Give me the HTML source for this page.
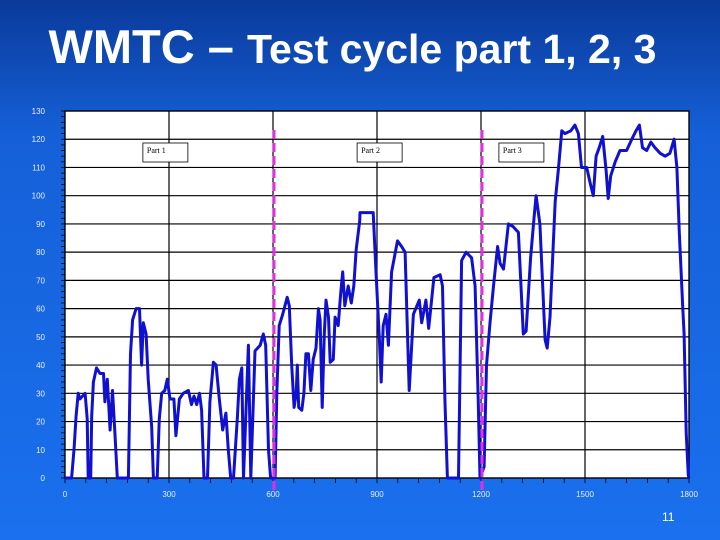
<!DOCTYPE html>
<html><head><meta charset="utf-8"><style>
html,body{margin:0;padding:0;width:720px;height:540px;overflow:hidden}
body{background:linear-gradient(180deg,#0a3a9a 0%,#1560d8 25%,#1a70ee 100%);font-family:"Liberation Sans",sans-serif}
#title{position:absolute;left:0;width:705px;top:20px;text-align:center;color:#fff;font-weight:bold;font-size:47px;line-height:54px;white-space:nowrap}
#title span{font-size:41px}
#pg{position:absolute;left:662px;top:510px;color:#fff;font-size:12px}
svg{position:absolute;left:0;top:0}
</style></head><body>
<div id="title">WMTC – <span>Test cycle part 1, 2, 3</span></div>
<div id="pg">11</div>
<svg id="chart" width="720" height="540"></svg>
<script>
const times=[0,19,26,32,38,43,58,64,67,74,77,82,91,101,111,115,122,130,137,144,151,183,189,195,205,215,221,226,234,240,250,255,266,272,279,288,295,303,314,320,330,341,356,365,372,380,388,394,401,411,418,428,436,445,455,464,471,478,486,497,503,510,515,529,536,548,563,572,579,587,593,606,611,618,628,641,647,654,661,667,670,674,683,689,695,702,709,716,724,731,736,742,748,753,760,765,774,779,788,795,801,807,817,826,833,840,850,
851,889,897,907,912,918,926,933,942,959,971,981,988,993,1005,1022,1029,1041,1049,1064,1082,1089,1096,1103,1135,1144,1157,1173,1183,1192,1197,1209,1216,1226,1236,1248,1255,1265,1279,1293,1308,1322,1330,1343,1353,1359,1370,1385,1391,1399,1414,1423,1433,1442,1459,1471,1481,1490,1505,1516,1524,1532,1541,1551,1561,1567,1574,1587,1601,1620,1635,1647,1657,1666,1678,1690,1702,1717,1731,1745,1757,1765,1772,1782,1786,1792,1798,1800];
const speeds=[0,0,10,22,30,28,30,21,0,0,22,34,39,37,37,27,35,17,31,16,0,0,44,56,60,60,40,55,51,35,18,0,0,21,30,31,35,28,28,15,28,30,31,26,29,26,30,24,0,0,27,41,40,28,17,23,10,0,0,21,35,39,0,47,0,45,47,51,47,10,0,0,30,54,58,64,61,40,25,30,40,25,24,30,44,44,31,42,46,60,56,25,51,63,57,41,42,57,54,65,73,61,68,62,68,81,91,
94,94,73,49,34,54,58,47,73,84,82,80,51,31,58,63,55,63,53,71,72,68,28,0,0,77,80,78,68,28,0,4,40,55,68,82,76,74,90,89,87,51,52,78,92,100,90,49,46,57,98,109,123,122,123,125,122,110,110,104,100,114,117,121,109,99,107,112,116,116,120,123,125,117,116,119,117,115,114,115,120,110,87,60,51,16,1,0];
const xTicks=[0,300,600,900,1200,1500,1800];
const yTicks=[0,10,20,30,40,50,60,70,80,90,100,110,120,130];
const partBoundaries=[600,1200];
const partLabels=[{t:"Part 1",x:291},{t:"Part 2",x:909},{t:"Part 3",x:1318}];
const L=65,R=689,T=111,B=478;
const X=t=>L+(t/1800)*(R-L), Y=v=>B-(v/130)*(B-T);
const svg=document.getElementById('chart');const NS='http://www.w3.org/2000/svg';
function mk(tag,attrs,parent){const e=document.createElementNS(NS,tag);for(const k in attrs)e.setAttribute(k,attrs[k]);(parent||svg).appendChild(e);return e;}
const bg=mk('rect',{x:L,y:T,width:R-L,height:B-T,fill:'#fff'});


yTicks.forEach(v=>{const l=mk('line',{x1:L,x2:R,y1:Y(v),y2:Y(v),stroke:'#000','stroke-width':1.2});


const t=mk('text',{x:45,y:Y(v)+3,'text-anchor':'end','font-size':8,fill:'#e8eeff','font-family':'Liberation Sans'});t.textContent=v;

});
for(let v=0;v<=130;v+=2){mk('line',{x1:L-4,x2:L,y1:Y(v),y2:Y(v),stroke:'#000','stroke-width':0.8});}
xTicks.forEach(v=>{const l=mk('line',{x1:X(v),x2:X(v),y1:T,y2:B,stroke:'#000','stroke-width':1.2});


const t=mk('text',{x:X(v),y:497,'text-anchor':'middle','font-size':8,fill:'#e8eeff','font-family':'Liberation Sans'});t.textContent=v;

});
for(let v=0;v<=1800;v+=60){mk('line',{x1:X(v),x2:X(v),y1:B,y2:B+5,stroke:'#000','stroke-width':0.8});}
mk('rect',{x:L,y:T,width:R-L,height:B-T,fill:'none',stroke:'#000','stroke-width':1.2});
partLabels.forEach(p=>{const g=mk('g',{});


mk('rect',{x:X(p.x)-23,y:143,width:45,height:19,fill:'#fff',stroke:'#000','stroke-width':0.8},g);
const t=mk('text',{x:X(p.x)-19,y:153,'font-size':8,'font-family':'Liberation Serif',fill:'#000'},g);t.textContent=p.t;});
const d=times.map((t,i)=>(i?'L':'M')+X(t).toFixed(1)+','+Y(speeds[i]).toFixed(1)).join('');
const path=mk('path',{d:d,fill:'none',stroke:'#1010d0','stroke-width':3,'stroke-linejoin':'round'});


partBoundaries.forEach(b=>{const l=mk('line',{x1:X(b)+1,x2:X(b)+1,y1:130,y2:490,stroke:'#e030e0','stroke-width':3,'stroke-dasharray':'9,4'});

});
</script>
</body></html>
